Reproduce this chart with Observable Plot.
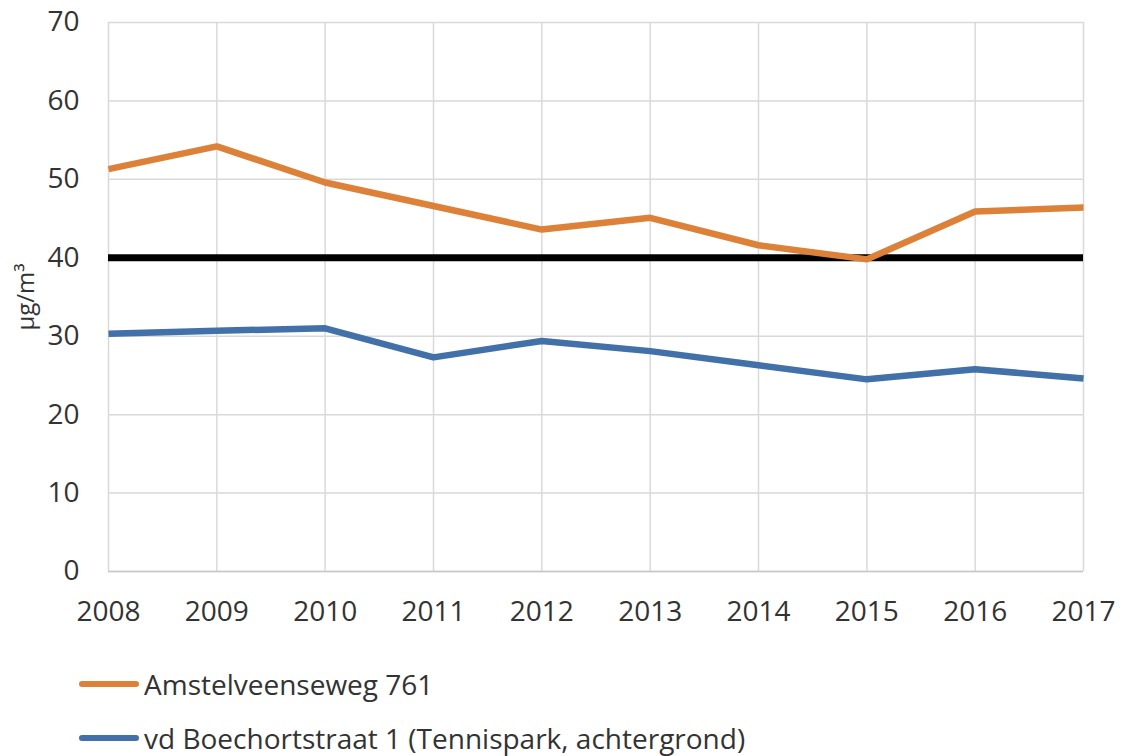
<!DOCTYPE html>
<html>
<head>
<meta charset="utf-8">
<script src="https://cdn.jsdelivr.net/npm/d3@7"></script>
<script src="https://cdn.jsdelivr.net/npm/@observablehq/plot@0.6"></script>
<style>
  html, body { margin: 0; padding: 0; background: #fff; }
  body { width: 1122px; height: 756px; overflow: hidden; font-family: "Open Sans", sans-serif; }
  #legend { position: relative; height: 116px; }
  .item { position: absolute; left: 79px; display: flex; align-items: center; font-size: 28px; line-height: 30px; color: #333; }
  .swatch { width: 60px; height: 6px; border-radius: 3px; margin-right: 5px; }
</style>
</head>
<body>
<div id="chart"></div>
<div id="legend"></div>
<script>
const years = [2008, 2009, 2010, 2011, 2012, 2013, 2014, 2015, 2016, 2017];
const amstelveenseweg = [51.3, 54.2, 49.6, 46.6, 43.6, 45.1, 41.6, 39.8, 45.9, 46.4];
const boechortstraat = [30.3, 30.7, 31.0, 27.3, 29.4, 28.1, 26.3, 24.5, 25.8, 24.6];
const seriesNames = ["Amstelveenseweg 761", "vd Boechortstraat 1 (Tennispark, achtergrond)"];
const seriesColors = ["#dd8138", "#4270a8"];
const limitValue = 40;
const yTicks = [0, 10, 20, 30, 40, 50, 60, 70];
const yLabel = "µg/m³";

const rows = [];
years.forEach((yr, i) => {
  rows.push({year: yr, value: amstelveenseweg[i], series: seriesNames[0]});
  rows.push({year: yr, value: boechortstraat[i], series: seriesNames[1]});
});

const chart = Plot.plot({
  width: 1122,
  height: 640,
  marginLeft: 108,
  marginRight: 39,
  marginTop: 22,
  marginBottom: 69,
  style: {fontFamily: "Open Sans, sans-serif", fontSize: "28px", color: "#333", background: "#fff"},
  x: {domain: [2008, 2017], ticks: years, tickFormat: d3.format("d")},
  y: {domain: [0, 70], ticks: yTicks},
  color: {domain: seriesNames, range: seriesColors},
  marks: [
    Plot.gridX(years, {stroke: "#d9d9d9", strokeOpacity: 1, strokeWidth: 1.5}),
    Plot.gridY(yTicks, {stroke: "#d9d9d9", strokeOpacity: 1, strokeWidth: 1.5}),
    Plot.ruleY([0], {stroke: "#c8c8c8", strokeWidth: 1.5}),
    Plot.axisX({ticks: years, tickSize: 0, tickPadding: 30, tickFormat: d3.format("d"), label: null, fontSize: 28}),
    Plot.axisY({ticks: yTicks, tickSize: 0, tickPadding: 29, label: null, fontSize: 28}),
    Plot.ruleY([limitValue], {stroke: "#000", strokeWidth: 7}),
    Plot.line(rows, {x: "year", y: "value", stroke: "series", strokeWidth: 6.5, strokeLinejoin: "miter", strokeLinecap: "butt"}),
    Plot.text([yLabel], {frameAnchor: "left", textAnchor: "middle", dx: -82, rotate: -90, fontSize: 24, fill: "#333"})
  ]
});
document.getElementById("chart").appendChild(chart);

const legend = document.getElementById("legend");
const tops = [44, 98];
seriesNames.forEach((name, i) => {
  const item = document.createElement("div");
  item.className = "item";
  item.style.top = (tops[i] - 15) + "px";
  item.style.height = "30px";
  const sw = document.createElement("span");
  sw.className = "swatch";
  sw.style.background = seriesColors[i];
  const tx = document.createElement("span");
  tx.textContent = name;
  item.appendChild(sw);
  item.appendChild(tx);
  legend.appendChild(item);
});
</script>
</body>
</html>
